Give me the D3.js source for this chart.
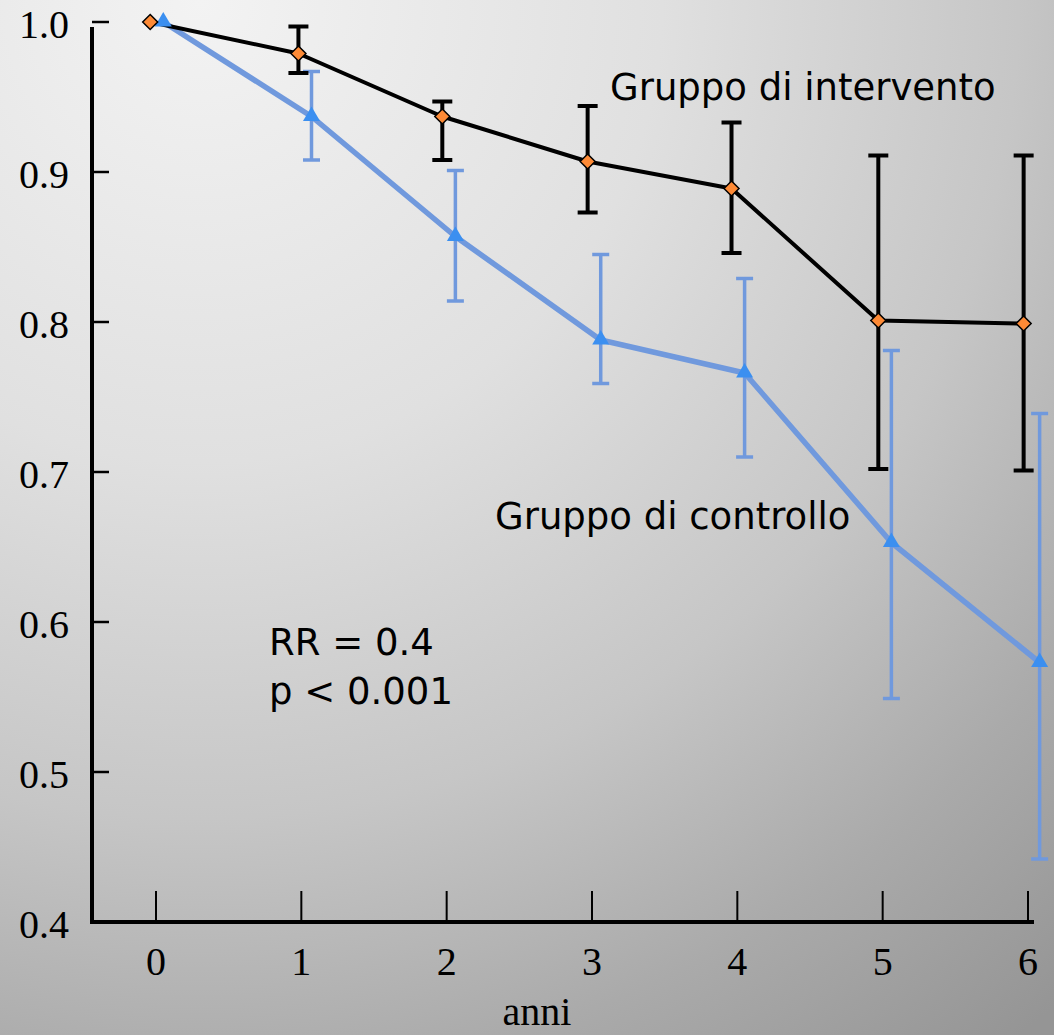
<!DOCTYPE html>
<html>
<head>
<meta charset="utf-8">
<script src="https://cdn.jsdelivr.net/npm/d3@7"></script>
<style>
  html, body { margin: 0; padding: 0; }
  svg { display: block; }
</style>
</head>
<body>
<svg id="chart" width="1054" height="1035"></svg>
<script>
// ---- data ----
const yearTicks = [0, 1, 2, 3, 4, 5, 6];
const yTicks = [0.4, 0.5, 0.6, 0.7, 0.8, 0.9, 1.0];
const yTickLabels = ["0.4", "0.5", "0.6", "0.7", "0.8", "0.9", "1.0"];

const interventionYears = [-0.04, 0.98, 1.97, 2.97, 3.96, 4.97, 5.97];
const interventionSurv  = [1.000, 0.979, 0.937, 0.907, 0.889, 0.801, 0.799];
const interventionLow   = [null,  0.966, 0.908, 0.873, 0.846, 0.702, 0.701];
const interventionHigh  = [null,  0.997, 0.947, 0.944, 0.933, 0.911, 0.911];

const controlYears = [0.05, 1.07, 2.06, 3.06, 4.05, 5.06, 6.08];
const controlSurv  = [1.000, 0.937, 0.857, 0.788, 0.766, 0.653, 0.573];
const controlLow   = [null,  0.908, 0.814, 0.759, 0.710, 0.549, 0.442];
const controlHigh  = [null,  0.967, 0.901, 0.845, 0.829, 0.781, 0.739];

const labelIntervention = "Gruppo di intervento";
const labelControl = "Gruppo di controllo";
const statLines = ["RR = 0.4", "p < 0.001"];
const xAxisTitle = "anni";

// ---- setup ----
const W = 1054, H = 1035;
const svg = d3.select("#chart");

const defs = svg.append("defs");
const grad = defs.append("radialGradient")
  .attr("id", "bg").attr("gradientUnits", "userSpaceOnUse")
  .attr("cx", 200).attr("cy", 0).attr("r", 1320);
[[0, "#f3f3f3"], [0.35, "#e0e0e0"], [0.62, "#c6c6c6"], [0.82, "#aaaaaa"], [1, "#959595"]]
  .forEach(([o, c]) => grad.append("stop").attr("offset", o).attr("stop-color", c));
svg.append("rect").attr("width", W).attr("height", H).attr("fill", "url(#bg)");

const x = d3.scaleLinear().domain([0, 6]).range([156, 1028]);
const y = d3.scaleLinear().domain([0.4, 1.0]).range([922, 22]);

const serif = "'Liberation Serif', 'Times New Roman', serif";
const sans = "'DejaVu Sans', Verdana, sans-serif";

// ---- axes ----
const axisX0 = 92;
svg.append("line")
  .attr("x1", axisX0).attr("x2", axisX0)
  .attr("y1", y(1.0) + 5).attr("y2", y(0.4) + 2)
  .attr("stroke", "#000").attr("stroke-width", 4);
svg.append("line")
  .attr("x1", axisX0 - 2).attr("x2", x(6) + 6)
  .attr("y1", y(0.4)).attr("y2", y(0.4))
  .attr("stroke", "#000").attr("stroke-width", 4);

// y ticks
svg.selectAll(".ytick").data(yTicks.filter(v => v > 0.4)).join("line")
  .attr("x1", axisX0).attr("x2", axisX0 + 17)
  .attr("y1", d => y(d)).attr("y2", d => y(d))
  .attr("stroke", "#000").attr("stroke-width", 2.5);
svg.selectAll(".ylab").data(yTicks).join("text")
  .attr("x", 69).attr("y", d => y(d) + 16)
  .attr("text-anchor", "end")
  .attr("font-family", serif).attr("font-size", 40)
  .text((d, i) => yTickLabels[i]);

// x ticks
svg.selectAll(".xtick").data(yearTicks).join("line")
  .attr("x1", d => x(d)).attr("x2", d => x(d))
  .attr("y1", y(0.4)).attr("y2", y(0.4) - 31)
  .attr("stroke", "#000").attr("stroke-width", 2);
svg.selectAll(".xlab").data(yearTicks).join("text")
  .attr("x", d => x(d)).attr("y", 975)
  .attr("text-anchor", "middle")
  .attr("font-family", serif).attr("font-size", 40)
  .text(d => d);
svg.append("text")
  .attr("x", 537).attr("y", 1025)
  .attr("text-anchor", "middle")
  .attr("font-family", serif).attr("font-size", 40)
  .text(xAxisTitle);

// ---- series ----
function series(xs, ys) { return xs.map((v, i) => ({ x: v, y: ys[i] })); }
const line = d3.line().x(d => x(d.x)).y(d => y(d.y));

const interv = series(interventionYears, interventionSurv);
const ctrl = series(controlYears, controlSurv);

function errorBars(xs, lo, hi, color, width, cap) {
  const g = svg.append("g").attr("stroke", color).attr("stroke-width", width).attr("fill", "none");
  xs.forEach((xv, i) => {
    if (lo[i] == null) return;
    const cx = x(xv);
    g.append("line").attr("x1", cx).attr("x2", cx).attr("y1", y(hi[i])).attr("y2", y(lo[i]));
    g.append("line").attr("x1", cx - cap / 2).attr("x2", cx + cap / 2).attr("y1", y(hi[i])).attr("y2", y(hi[i]));
    g.append("line").attr("x1", cx - cap / 2).attr("x2", cx + cap / 2).attr("y1", y(lo[i])).attr("y2", y(lo[i]));
  });
}

// control (blue)
svg.append("path").datum(ctrl).attr("d", line)
  .attr("fill", "none").attr("stroke", "#7099dd").attr("stroke-width", 5.5)
  .attr("stroke-linejoin", "round");
errorBars(controlYears, controlLow, controlHigh, "#7099dd", 3.5, 17);

// intervention (black)
svg.append("path").datum(interv).attr("d", line)
  .attr("fill", "none").attr("stroke", "#000").attr("stroke-width", 4)
  .attr("stroke-linejoin", "round");
errorBars(interventionYears, interventionLow, interventionHigh, "#000", 4, 20);

// markers
svg.selectAll(".tri").data(ctrl).join("path")
  .attr("d", d => {
    const cx = x(d.x), cy = y(d.y) - 2;
    return `M${cx},${cy - 8}L${cx + 8.5},${cy + 6.5}L${cx - 8.5},${cy + 6.5}Z`;
  })
  .attr("fill", "#3b8ff0");
svg.selectAll(".dia").data(interv).join("path")
  .attr("d", d => {
    const cx = x(d.x), cy = y(d.y);
    return `M${cx},${cy - 7.5}L${cx + 7.5},${cy}L${cx},${cy + 7.5}L${cx - 7.5},${cy}Z`;
  })
  .attr("fill", "#fd8a36").attr("stroke", "#000").attr("stroke-width", 1.5);

// ---- annotations ----
svg.append("text").attr("x", 610).attr("y", 100)
  .attr("font-family", sans).attr("font-size", 37).text(labelIntervention);
svg.append("text").attr("x", 495).attr("y", 529)
  .attr("font-family", sans).attr("font-size", 37).text(labelControl);
svg.selectAll(".stat").data(statLines).join("text")
  .attr("x", 269).attr("y", (d, i) => 655 + i * 49)
  .attr("font-family", sans).attr("font-size", 37)
  .text(d => d);
</script>
</body>
</html>
